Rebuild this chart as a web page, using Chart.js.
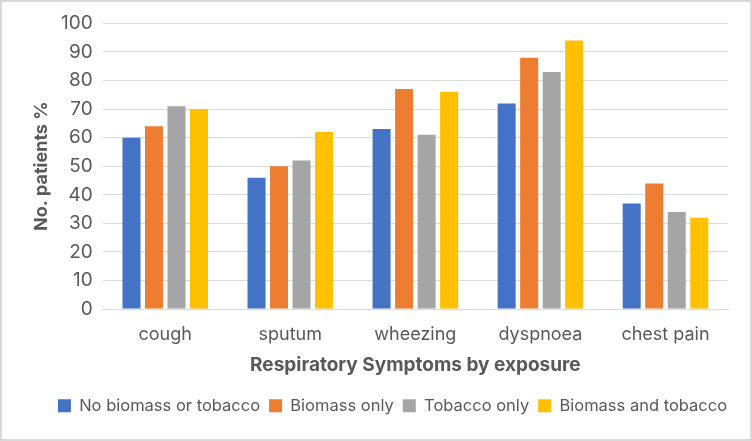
<!DOCTYPE html>
<html>
<head>
<meta charset="utf-8">
<script src="https://cdn.jsdelivr.net/npm/chart.js@4"></script>
<style>
  html, body { margin: 0; padding: 0; background: #fff; }
  #wrap {
    width: 752px; height: 441px; box-sizing: border-box;
    border: 2px solid #d9d9d9; background: #fff;
  }
</style>
</head>
<body>
<div id="wrap"><canvas id="chart" width="748" height="437"></canvas></div>
<script>
// ----------------------
//  DATA
// ----------------------
const categories = ['cough', 'sputum', 'wheezing', 'dyspnoea', 'chest pain'];
const seriesNames = ['No biomass or tobacco', 'Biomass only', 'Tobacco only', 'Biomass and tobacco'];
const noBiomassOrTobacco = [60, 46, 63, 72, 37];
const biomassOnly = [64, 50, 77, 88, 44];
const tobaccoOnly = [71, 52, 61, 83, 34];
const biomassAndTobacco = [70, 62, 76, 94, 32];
const colors = ['#4472C4', '#ED7D31', '#A5A5A5', '#FFC000'];

const FONT = 'Inter, "Open Sans", sans-serif';
const TEXT = '#595959';

const values = [noBiomassOrTobacco, biomassOnly, tobaccoOnly, biomassAndTobacco];

const chartData = {
    labels: categories,
    datasets: seriesNames.map((name, i) => ({
        label: name,
        data: values[i],
        backgroundColor: colors[i],
        borderWidth: 0,
        categoryPercentage: 0.72,
        barPercentage: 0.8,
    }))
};

// nudge the legend a bit to the right, like the original
const legendShift = {
    id: 'legendShift',
    afterLayout(chart) {
        chart.legend.left += 12;
        chart.legend.right += 12;
    }
};

// ----------------------
//  CHART
// ----------------------
const options = {
    responsive: false,
    animation: false,
    layout: { padding: { top: 10, right: 22, left: 31, bottom: 15 } },
    plugins: {
        tooltip: { enabled: false },
        legend: {
            position: 'bottom',
            labels: {
                color: TEXT,
                font: { family: FONT, size: 16.5 },
                boxWidth: 13,
                boxHeight: 13,
                padding: 9,
            }
        }
    },
    scales: {
        x: {
            grid: { display: false, drawTicks: false },
            border: { color: '#d9d9d9', width: 1 },
            ticks: {
                autoSkip: false,
                maxRotation: 0,
                color: TEXT,
                font: { family: FONT, size: 18 },
                padding: 15,
            },
            title: {
                display: true,
                text: 'Respiratory Symptoms by exposure',
                color: TEXT,
                font: { family: FONT, size: 19, weight: 'bold' },
                padding: { top: -7, bottom: 12 },
            }
        },
        y: {
            min: 0,
            max: 100,
            ticks: {
                autoSkip: false,
                stepSize: 10,
                color: TEXT,
                font: { family: FONT, size: 19 },
                padding: 10,
            },
            grid: { color: '#d9d9d9', lineWidth: 1, drawTicks: false },
            border: { display: false },
            title: {
                display: true,
                text: 'No. patients %',
                color: TEXT,
                font: { family: FONT, size: 18, weight: 'bold', lineHeight: 1 },
                padding: { top: 0, bottom: 0 },
            }
        }
    }
};

let ctx = document.getElementById('chart').getContext('2d');
new Chart(ctx, { type: 'bar', data: chartData, options: options, plugins: [legendShift] });
</script>
</body>
</html>
